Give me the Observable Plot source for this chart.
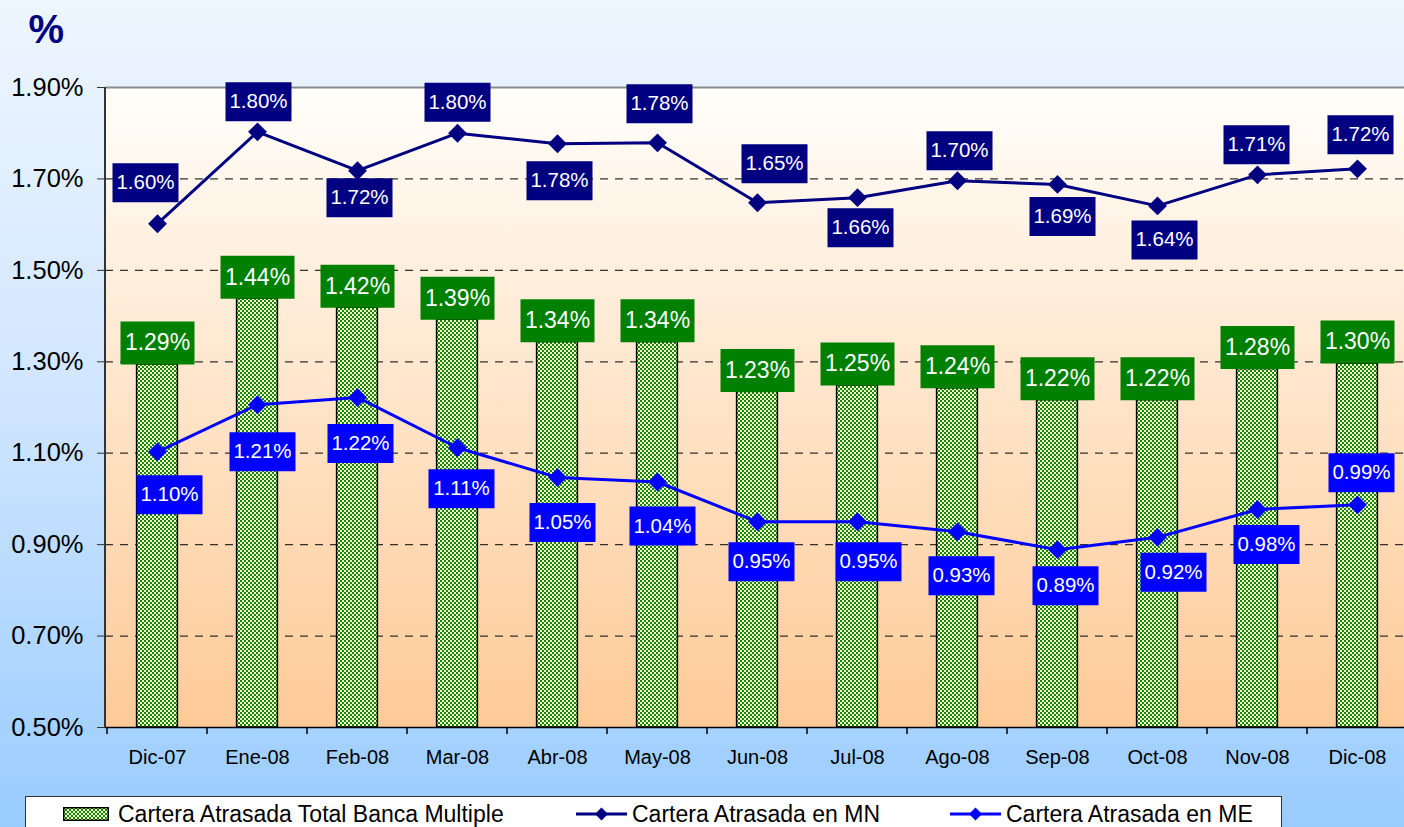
<!DOCTYPE html>
<html><head><meta charset="utf-8">
<script src="https://cdn.jsdelivr.net/npm/d3@7"></script>
<script src="https://cdn.jsdelivr.net/npm/@observablehq/plot@0.6"></script>
<style>
html,body{margin:0;padding:0;}
#wrap{position:relative;width:1404px;height:827px;overflow:hidden;background:linear-gradient(to bottom,#EEF6FF 0%,#CFE5FF 50%,#99CCFF 100%);font-family:"Liberation Sans",Arial,sans-serif;}
#chart{position:absolute;left:0;top:0;}
#legend{position:absolute;left:25px;top:796px;width:1255px;height:60px;background:#fff;border:1.5px solid #333;}
.item{position:absolute;top:3px;height:28px;display:flex;align-items:center;font-size:23px;color:#000;white-space:nowrap;}
.item svg{display:block;}
</style></head>
<body><div id="wrap"><div id="chart"></div><div id="legend"></div></div>
<script>
// ---- data ----
const categories = ["Dic-07","Ene-08","Feb-08","Mar-08","Abr-08","May-08","Jun-08","Jul-08","Ago-08","Sep-08","Oct-08","Nov-08","Dic-08"];
const totalBanca = [1.294,1.438,1.418,1.392,1.343,1.343,1.234,1.248,1.242,1.216,1.216,1.284,1.296];
const carteraMN  = [1.602,1.803,1.718,1.800,1.777,1.779,1.648,1.659,1.696,1.688,1.641,1.709,1.722];
const carteraME  = [1.103,1.206,1.222,1.112,1.047,1.037,0.950,0.950,0.928,0.889,0.916,0.977,0.987];
const yTicks = [0.5,0.7,0.9,1.1,1.3,1.5,1.7,1.9];
const gridValues = [0.7,0.9,1.1,1.3,1.5,1.7];
const seriesNames = ["Cartera Atrasada Total Banca Multiple","Cartera Atrasada en MN","Cartera Atrasada en ME"];

// label placement offsets (layout)
const mnDx = [-12,1,2,0,2,2,17,3,2,5,7,-1,3];
const mnDy = [-41,-30,27,-31,37,-39,-39,30,-30,32,34,-30,-34];
const meDx = [12,5,3,4,5,5,4,11,4,8,16,9,4];
const meDy = [43,47,46,41,45,44,40,40,44,36,35,35,-32];

const NAVY = "#000080", BLUE = "#0000FF", GREEN = "#008000";
const CHECK_DARK = "#118811", CHECK_LIGHT = "#FAFFC4";
const fmt = v => v.toFixed(2) + "%";
const rows = categories.map((c, i) => ({cat: c, total: totalBanca[i], mn: carteraMN[i], me: carteraME[i], i}));

const boxSym = (w, h) => ({draw(ctx) { ctx.rect(-w / 2, -h / 2, w, h); }});

function defsMark() {
  const g = d3.create("svg:g");
  const defs = g.append("defs");
  const lg = defs.append("linearGradient").attr("id", "plotGrad").attr("x1", 0).attr("y1", 0).attr("x2", 0).attr("y2", 1);
  lg.append("stop").attr("offset", "0%").attr("stop-color", "#FFFEFA");
  lg.append("stop").attr("offset", "100%").attr("stop-color", "#FFCA96");
  const p = defs.append("pattern").attr("id", "checker").attr("width", 4).attr("height", 4).attr("patternUnits", "userSpaceOnUse");
  p.append("rect").attr("width", 4).attr("height", 4).attr("fill", CHECK_LIGHT);
  p.append("rect").attr("width", 2).attr("height", 2).attr("fill", CHECK_DARK);
  p.append("rect").attr("x", 2).attr("y", 2).attr("width", 2).attr("height", 2).attr("fill", CHECK_DARK);
  return g.node();
}

function axisLines(index, scales, values, dims) {
  const {width, height, marginLeft, marginRight, marginTop, marginBottom} = dims;
  const bottom = height - marginBottom;
  const g = d3.create("svg:g");
  const xs = categories.map(c => scales.x(c));
  xs.push(width - marginRight);
  for (const x of xs) {
    g.append("line").attr("x1", x).attr("x2", x).attr("y1", bottom).attr("y2", bottom + 7).attr("stroke", "#000").attr("stroke-width", 1.5);
  }
  g.append("line").attr("x1", marginLeft).attr("x2", marginLeft).attr("y1", marginTop).attr("y2", bottom).attr("stroke", "#333").attr("stroke-width", 2);
  return g.node();
}

const labelMarks = [];
rows.forEach((d, i) => {
  labelMarks.push(
    Plot.dot([d], {x: "cat", y: "mn", dx: mnDx[i], dy: mnDy[i], symbol: boxSym(66, 39), fill: NAVY, stroke: "none"}),
    Plot.text([d], {x: "cat", y: "mn", dx: mnDx[i], dy: mnDy[i], text: r => fmt(r.mn), fill: "#fff", fontSize: 20.5}),
    Plot.dot([d], {x: "cat", y: "me", dx: meDx[i], dy: meDy[i], symbol: boxSym(66, 39), fill: BLUE, stroke: "none"}),
    Plot.text([d], {x: "cat", y: "me", dx: meDx[i], dy: meDy[i], text: r => fmt(r.me), fill: "#fff", fontSize: 20.5})
  );
});

const chart = Plot.plot({
  width: 1404,
  height: 790,
  marginLeft: 105,
  marginRight: -4,
  marginTop: 87,
  marginBottom: 63,
  style: {background: "transparent", fontFamily: "'Liberation Sans', Arial, sans-serif", color: "#000", overflow: "visible"},
  x: {domain: categories, padding: 0, label: null},
  y: {domain: [0.5, 1.9], label: null},
  marks: [
    defsMark,
    Plot.frame({fill: "url(#plotGrad)", stroke: "none"}),
    Plot.ruleY(gridValues, {stroke: "#111", strokeWidth: 1.2, strokeDasharray: "8,7", strokeOpacity: 0.85}),
    Plot.barY(rows, {x: "cat", y1: () => 0.5, y2: "total", fill: "url(#checker)", stroke: "#000", strokeWidth: 1.5, insetLeft: 29.6, insetRight: 29.6}),
    Plot.ruleY([1.9], {stroke: "#8a8a8a", strokeWidth: 2}),
    Plot.ruleY([0.5], {stroke: "#000", strokeWidth: 1.5}),
    axisLines,
    Plot.axisY(yTicks, {tickSize: 8, tickPadding: 14, fontSize: 25.5, tickFormat: fmt, stroke: "#333", fill: "#000", label: null}),
    Plot.axisX({tickSize: 0, tickPadding: 22, fontSize: 20, fill: "#000", label: null}),
    Plot.line(rows, {x: "cat", y: "mn", stroke: NAVY, strokeWidth: 3}),
    Plot.dot(rows, {x: "cat", y: "mn", symbol: "diamond2", r: 8.5, fill: NAVY, stroke: "none"}),
    Plot.line(rows, {x: "cat", y: "me", stroke: BLUE, strokeWidth: 3}),
    Plot.dot(rows, {x: "cat", y: "me", symbol: "diamond2", r: 8.5, fill: BLUE, stroke: "none"}),
    Plot.dot(rows, {x: "cat", y: "total", dy: -21.5, symbol: boxSym(74, 43), fill: GREEN, stroke: "none"}),
    Plot.text(rows, {x: "cat", y: "total", dy: -21.5, text: r => fmt(r.total), fill: "#fff", fontSize: 23}),
    ...labelMarks,
    Plot.text(["%"], {frameAnchor: "top-left", dx: -77, dy: -73, textAnchor: "start", fontSize: 40, fontWeight: "bold", fill: NAVY})
  ]
});
document.getElementById("chart").appendChild(chart);

// legend
const legend = document.getElementById("legend");
const lineSwatch = color => `<svg width="51" height="16"><line x1="0" x2="51" y1="8" y2="8" stroke="${color}" stroke-width="3"/><path d="M25.5,1.5 L32,8 L25.5,14.5 L19,8Z" fill="${color}"/></svg>`;
const barSwatch = `<svg width="46" height="14"><defs><pattern id="checkerL" width="4" height="4" patternUnits="userSpaceOnUse"><rect width="4" height="4" fill="${CHECK_LIGHT}"/><rect width="2" height="2" fill="${CHECK_DARK}"/><rect x="2" y="2" width="2" height="2" fill="${CHECK_DARK}"/></pattern></defs><rect x="0.75" y="0.75" width="44.5" height="12.5" fill="url(#checkerL)" stroke="#000" stroke-width="1.5"/></svg>`;
const items = [
  {left: 37, sw: barSwatch, gap: 9, name: seriesNames[0]},
  {left: 550, sw: lineSwatch(NAVY), gap: 5, name: seriesNames[1]},
  {left: 924, sw: lineSwatch(BLUE), gap: 5, name: seriesNames[2]}
];
for (const it of items) {
  const div = document.createElement("div");
  div.className = "item";
  div.style.left = it.left + "px";
  div.innerHTML = it.sw + `<span style="margin-left:${it.gap}px">${it.name}</span>`;
  legend.appendChild(div);
}
</script>
</body></html>
